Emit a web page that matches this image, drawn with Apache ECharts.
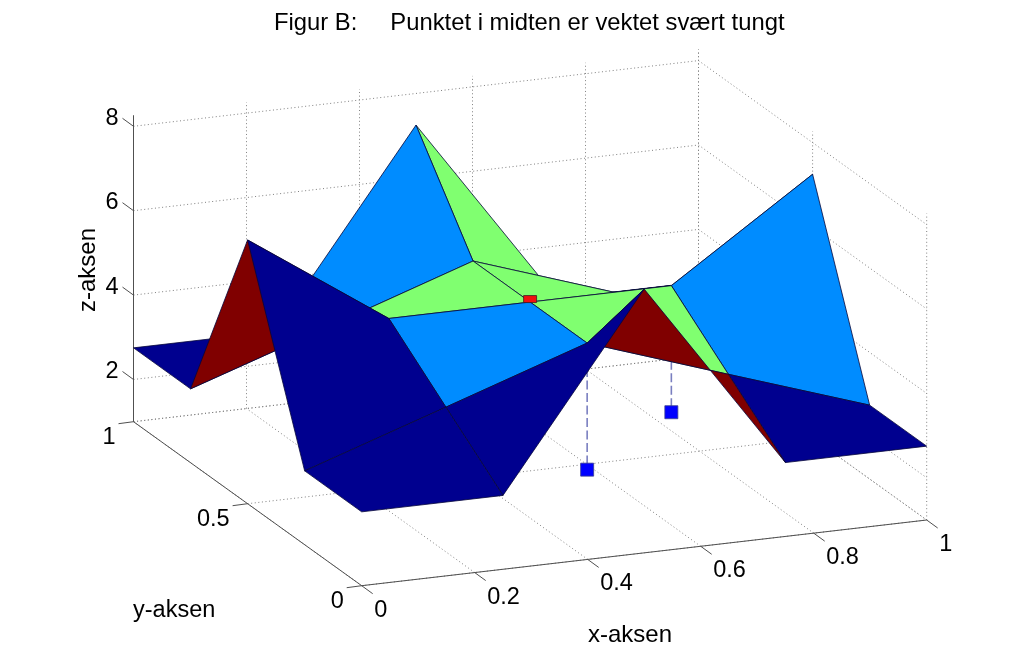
<!DOCTYPE html>
<html>
<head>
<meta charset="utf-8">
<title>Figur B</title>
<script src="https://cdn.jsdelivr.net/npm/echarts@6/dist/echarts.min.js"></script>
<style>
    html, body { margin: 0; padding: 0; background: #fff; }
    #chart { width: 1024px; height: 659px; }
</style>
</head>
<body>
<div id="chart"></div>
<script>
// surface samples
const xGrid = [0, 0.25, 0.5, 0.75, 1]
const yGrid = [0, 0.25, 0.5, 0.75, 1]
// zRows[j][i] is the height at (xGrid[i], yGrid[j])
const zRows = [
    [2.75, 2.75, 7.25, 2.75, 2.75],
    [2.75, 3.87, 5.0, 3.87, 2.75],
    [7.25, 5.0, 5.0, 5.0, 7.25],
    [2.75, 3.87, 5.0, 3.87, 2.75],
    [2.75, 2.75, 7.25, 2.75, 2.75]
]
// weighted point in the middle and the two points below the surface
const centerPoint = [0.5, 0.5, 5]
const lowPoints = [[0.5, 0.25, 2], [0.75, 0.5, 2]]

const xTicks = [0, 0.2, 0.4, 0.6, 0.8, 1]
const yTicks = [0, 0.5, 1]
const zTicks = [1, 2, 4, 6, 8]
const zLabelled = [2, 4, 6, 8]
const zMin = 1
const zTop = 8.26

const titleText = 'Figur B:     Punktet i midten er vektet svært tungt'
const xName = 'x-aksen'
const yName = 'y-aksen'
const zName = 'z-aksen'

// flat colour of a cell, taken from the height of its first corner
const colorLevels = [
    { below: 3.3, color: '#00008f' },
    { below: 4.5, color: '#008cff' },
    { below: 6, color: '#80ff70' },
    { below: 99, color: '#800000' }
]

const FONT = '24px "Liberation Sans", Arial, sans-serif'
const TICK_FONT = '23.5px "Liberation Sans", Arial, sans-serif'

// orthographic view of the 3d box, result is in the hidden plane axes
const view = {
    ox: 361.7,
    oy: 585.7,
    xv: [565, -65.7],
    yv: [-228.2, -164],
    zs: 42.2
}
function project(x, y, z) {
    return [
        view.ox + view.xv[0] * x + view.yv[0] * y,
        view.oy + view.xv[1] * x + view.yv[1] * y - (z - zMin) * view.zs
    ]
}
// larger = nearer the viewer
function nearness(x, y) {
    return project(x, y, zMin)[1]
}
function cellColor(z) {
    return colorLevels.find((l) => z < l.below).color
}

// surface cells and stems go in one list, painted back to front
const scene = []
for (let j = 0; j < yGrid.length - 1; j++) {
    for (let i = 0; i < xGrid.length - 1; i++) {
        scene.push({
            kind: 'cell',
            depth: nearness((xGrid[i] + xGrid[i + 1]) / 2, (yGrid[j] + yGrid[j + 1]) / 2),
            corners: [
                [xGrid[i], yGrid[j], zRows[j][i]],
                [xGrid[i + 1], yGrid[j], zRows[j][i + 1]],
                [xGrid[i + 1], yGrid[j + 1], zRows[j + 1][i + 1]],
                [xGrid[i], yGrid[j + 1], zRows[j + 1][i]]
            ],
            color: cellColor(zRows[j][i])
        })
    }
}
lowPoints.forEach((p) => {
    const gi = xGrid.indexOf(p[0])
    const gj = yGrid.indexOf(p[1])
    scene.push({ kind: 'stem', depth: nearness(p[0], p[1]), point: p, topZ: zRows[gj][gi] })
})
scene.sort((a, b) => a.depth - b.depth)

// dotted grid on floor and the two back walls
const gridLines = []
xTicks.forEach((x) => {
    gridLines.push([[x, 0, zMin], [x, 1, zMin]])
    gridLines.push([[x, 1, zMin], [x, 1, zTop]])
})
yTicks.forEach((y) => {
    gridLines.push([[0, y, zMin], [1, y, zMin]])
    gridLines.push([[1, y, zMin], [1, y, zTop]])
})
zTicks.forEach((z) => {
    gridLines.push([[0, 1, z], [1, 1, z]])
    gridLines.push([[1, 1, z], [1, 0, z]])
})

// solid axes, ticks and tick labels
const axisLines = [
    [[0, 1, zMin], [0, 1, zTop]],
    [[0, 1, zMin], [0, 0, zMin]],
    [[0, 0, zMin], [1, 0, zMin]]
]
const tickMarks = []
const tickLabels = []
xTicks.forEach((x) => {
    tickMarks.push({ at: [x, 0, zMin], dx: 11, dy: 8 })
    tickLabels.push({ at: [x, 0, zMin], text: String(x), dx: 12.5, dy: 24.5, align: 'left' })
})
yTicks.forEach((y) => {
    tickMarks.push({ at: [0, y, zMin], dx: -15, dy: 2 })
    tickLabels.push({ at: [0, y, zMin], text: String(y), dx: -18, dy: 15.5, align: 'right' })
})
zLabelled.forEach((z) => {
    tickMarks.push({ at: [0, 1, z], dx: -11, dy: -8 })
    tickLabels.push({ at: [0, 1, z], text: String(z), dx: -15, dy: -8, align: 'right' })
})

function coordsOf(api, p) {
    return api.coord(project(p[0], p[1], p[2]))
}

function renderGrid(params, api) {
    const seg = gridLines[params.dataIndex]
    const a = coordsOf(api, seg[0])
    const b = coordsOf(api, seg[1])
    return {
        type: 'line',
        shape: { x1: a[0], y1: a[1], x2: b[0], y2: b[1] },
        style: { stroke: '#808080', lineWidth: 1, lineDash: [1, 2.6], fill: null }
    }
}

function renderScene(params, api) {
    const item = scene[params.dataIndex]
    if (item.kind === 'cell') {
        return {
            type: 'polygon',
            shape: { points: item.corners.map((c) => coordsOf(api, c)) },
            style: { fill: item.color, stroke: '#06063a', lineWidth: 0.8, lineJoin: 'round' }
        }
    }
    const p = item.point
    const low = coordsOf(api, p)
    const high = coordsOf(api, [p[0], p[1], item.topZ])
    return {
        type: 'group',
        children: [
            {
                type: 'line',
                shape: { x1: high[0], y1: high[1], x2: low[0], y2: low[1] },
                style: { stroke: '#7a7fc0', lineWidth: 1.6, lineDash: [9, 3.5], fill: null }
            },
            {
                type: 'rect',
                shape: { x: low[0] - 6.5, y: low[1] - 6.5, width: 13, height: 13 },
                style: { fill: '#0000ff', stroke: '#3a3f8f', lineWidth: 0.8 }
            }
        ]
    }
}

function renderCenter(params, api) {
    const c = coordsOf(api, centerPoint)
    // only the upper half of the marker sticks out of the surface
    return {
        type: 'rect',
        shape: { x: c[0] - 6.5, y: c[1] - 6.5, width: 13, height: 7 },
        style: { fill: '#f01010', stroke: '#402020', lineWidth: 0.8 }
    }
}

function renderAxisLine(params, api) {
    const seg = axisLines[params.dataIndex]
    const a = coordsOf(api, seg[0])
    const b = coordsOf(api, seg[1])
    return {
        type: 'line',
        shape: { x1: a[0], y1: a[1], x2: b[0], y2: b[1] },
        style: { stroke: '#505050', lineWidth: 1, fill: null }
    }
}

function renderTick(params, api) {
    const t = tickMarks[params.dataIndex]
    const a = coordsOf(api, t.at)
    return {
        type: 'line',
        shape: { x1: a[0], y1: a[1], x2: a[0] + t.dx, y2: a[1] + t.dy },
        style: { stroke: '#505050', lineWidth: 1, fill: null }
    }
}

function renderTickLabel(params, api) {
    const t = tickLabels[params.dataIndex]
    const a = coordsOf(api, t.at)
    return {
        type: 'text',
        x: a[0] + t.dx,
        y: a[1] + t.dy,
        style: { text: t.text, font: TICK_FONT, fill: '#000', textAlign: t.align, textVerticalAlign: 'middle' }
    }
}

function customSeries(list, renderItem) {
    return {
        type: 'custom',
        coordinateSystem: 'cartesian2d',
        silent: true,
        clip: false,
        encode: { x: 0, y: 0 },
        data: list.map((d, i) => [i]),
        renderItem: renderItem
    }
}

const myChart = echarts.init(document.getElementById('chart'))
const option = {
    animation: false,
    backgroundColor: '#fff',
    title: {
        text: titleText,
        left: 269,
        top: 5,
        textStyle: {
            color: '#000',
            fontFamily: '"Liberation Sans", Arial, sans-serif',
            fontWeight: 'normal',
            fontSize: 23.8,
            lineHeight: 26
        }
    },
    grid: { left: 0, right: 0, top: 0, bottom: 0 },
    // plane axes for the projected box, never shown
    xAxis: { type: 'value', min: 0, max: 1024, show: false },
    yAxis: { type: 'value', min: 0, max: 659, inverse: true, show: false },
    graphic: [
        {
            type: 'text',
            left: 133,
            top: 599,
            style: { text: yName, font: '23.5px "Liberation Sans", Arial, sans-serif', fill: '#000' }
        },
        {
            type: 'text',
            left: 588,
            top: 623,
            style: { text: xName, font: FONT, fill: '#000' }
        },
        {
            type: 'text',
            left: 76,
            top: 228,
            rotation: Math.PI / 2,
            style: { text: zName, font: FONT, fill: '#000' }
        }
    ],
    series: [
        customSeries(gridLines, renderGrid),
        customSeries(axisLines, renderAxisLine),
        customSeries(tickMarks, renderTick),
        customSeries(scene, renderScene),
        customSeries([centerPoint], renderCenter),
        customSeries(tickLabels, renderTickLabel)
    ]
}
myChart.setOption(option)
</script>
</body>
</html>
